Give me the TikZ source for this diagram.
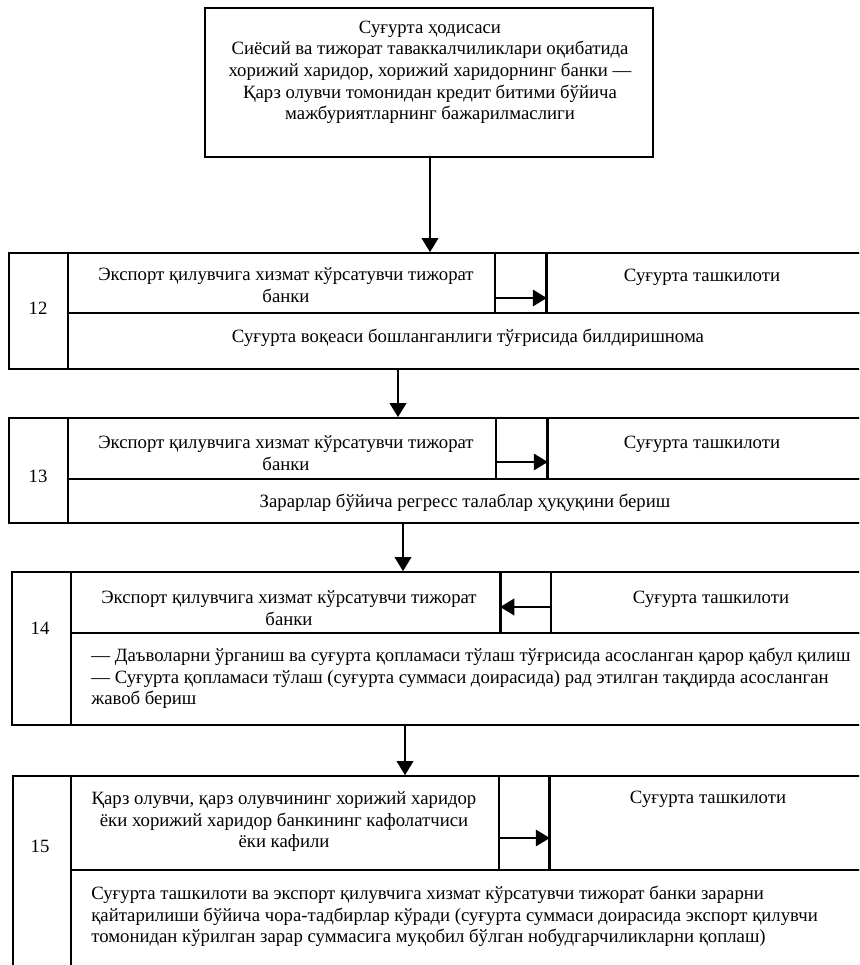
\documentclass[tikz,border=0pt]{standalone}
\usepackage{fontspec}
\setmainfont{Liberation Serif}
\usetikzlibrary{arrows.meta,fit}
\begin{document}
\begin{tikzpicture}[x=0.64pt,y=-0.64pt,
  cell/.style={draw, line width=1.05pt, inner sep=0pt},
  txt/.style={inner sep=0pt, font=\fontsize{12}{13.8}\selectfont, align=center, anchor=north, yshift=-1.3pt},
  ltxt/.style={txt, align=left, anchor=north west},
  arr/.style={-{Triangle[length=9pt,width=10.5pt]}, line width=1.5pt},
  tipline/.style={line width=1.8pt}]
\useasboundingbox (0,0) rectangle (859,965);
\clip (0,0) rectangle (859,965);

% top box
\node[cell, fit={(205,8)(653,157)}] (top) {};
\node[txt] (toptext) at (430,16) {\strut Суғурта ҳодисаси\\Сиёсий ва тижорат таваккалчиликлари оқибатида\\хорижий харидор, хорижий харидорнинг банки —\\Қарз олувчи томонидан кредит битими бўйича\\мажбуриятларнинг бажарилмаслиги};

% box 12
\node[cell, fit={(9,253)(68,369)}] (n12) {};
\node[cell, fit={(68,253)(495,313)}] (l12) {};
\node[cell, fit={(495,253)(546,313)}] (m12) {};
\node[cell, fit={(546,253)(875,313)}] (r12) {};
\node[cell, fit={(68,313)(875,369)}] (d12) {};
\draw[tipline] (m12.north east) -- (m12.south east);
\coordinate (h12) at (0,298);
\draw[arr] (m12.west |- h12) -- (m12.east |- h12);
\node[txt] (t12a) at (286,263) {\strut Экспорт қилувчига хизмат кўрсатувчи тижорат\\банки};
\node[txt] (t12b) at (702,264) {\strut Суғурта ташкилоти};
\node[txt] (t12n) at (38,297) {\strut 12};
\node[txt] (t12c) at (468,325) {\strut Суғурта воқеаси бошланганлиги тўғрисида билдиришнома};

% box 13
\node[cell, fit={(9,418)(68,523)}] (n13) {};
\node[cell, fit={(68,418)(496,479)}] (l13) {};
\node[cell, fit={(496,418)(547,479)}] (m13) {};
\node[cell, fit={(547,418)(875,479)}] (r13) {};
\node[cell, fit={(68,479)(875,523)}] (d13) {};
\draw[tipline] (m13.north east) -- (m13.south east);
\coordinate (h13) at (0,462);
\draw[arr] (m13.west |- h13) -- (m13.east |- h13);
\node[txt] (t13a) at (286,431) {\strut Экспорт қилувчига хизмат кўрсатувчи тижорат\\банки};
\node[txt] (t13b) at (702,431) {\strut Суғурта ташкилоти};
\node[txt] (t13n) at (38,465) {\strut 13};
\node[txt] (t13c) at (465,490) {\strut Зарарлар бўйича регресс талаблар ҳуқуқини бериш};

% box 14
\node[cell, fit={(12,572)(71,725)}] (n14) {};
\node[cell, fit={(71,572)(501,633)}] (l14) {};
\node[cell, fit={(501,572)(551,633)}] (m14) {};
\node[cell, fit={(551,572)(875,633)}] (r14) {};
\node[cell, fit={(71,633)(875,725)}] (d14) {};
\draw[tipline] (m14.north west) -- (m14.south west);
\coordinate (h14) at (0,607);
\draw[arr] (m14.east |- h14) -- (m14.west |- h14);
\node[txt] (t14a) at (289,586) {\strut Экспорт қилувчига хизмат кўрсатувчи тижорат\\банки};
\node[txt] (t14b) at (711,586) {\strut Суғурта ташкилоти};
\node[txt] (t14n) at (40,617) {\strut 14};
\node[ltxt] (t14c) at (91,644) {\strut — Даъволарни ўрганиш ва суғурта қопламаси тўлаш тўғрисида асосланган қарор қабул қилиш\\— Суғурта қопламаси тўлаш (суғурта суммаси доирасида) рад этилган тақдирда асосланган\\жавоб бериш};

% box 15
\node[cell, fit={(13,776)(71,990)}] (n15) {};
\node[cell, fit={(71,776)(499,870)}] (l15) {};
\node[cell, fit={(499,776)(549,870)}] (m15) {};
\node[cell, fit={(549,776)(875,870)}] (r15) {};
\node[cell, fit={(71,870)(875,990)}] (d15) {};
\draw[tipline] (m15.north east) -- (m15.south east);
\coordinate (h15) at (0,838);
\draw[arr] (m15.west |- h15) -- (m15.east |- h15);
\node[txt] (t15a) at (284,787) {\strut Қарз олувчи, қарз олувчининг хорижий харидор\\ёки хорижий харидор банкининг кафолатчиси\\ёки кафили};
\node[txt] (t15b) at (708,786) {\strut Суғурта ташкилоти};
\node[txt] (t15n) at (40,835) {\strut 15};
\node[ltxt] (t15c) at (91,882) {\strut Суғурта ташкилоти ва экспорт қилувчига хизмат кўрсатувчи тижорат банки зарарни\\қайтарилиши бўйича чора-тадбирлар кўради (суғурта суммаси доирасида экспорт қилувчи\\томонидан кўрилган зарар суммасига муқобил бўлган нобудгарчиликларни қоплаш)};

% vertical connectors
\coordinate (v1) at (430,0);
\coordinate (v2) at (398,0);
\coordinate (v3) at (403,0);
\coordinate (v4) at (405,0);
\draw[arr] (top.south -| v1) -- (l12.north -| v1);
\draw[arr] (d12.south -| v2) -- (l13.north -| v2);
\draw[arr] (d13.south -| v3) -- (l14.north -| v3);
\draw[arr] (d14.south -| v4) -- (l15.north -| v4);
\end{tikzpicture}
\end{document}
